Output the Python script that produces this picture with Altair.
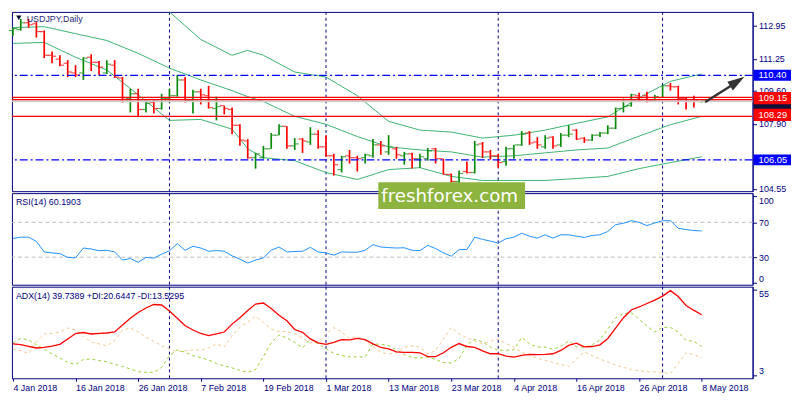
import altair as alt
import pandas as pd

# x axis: one bar per trading day, labels every 8 bars
tick_bars = [0, 8, 16, 24, 32, 40, 48, 56, 64, 72, 80, 88]
tick_labels = ["4 Jan 2018", "16 Jan 2018", "26 Jan 2018", "7 Feb 2018", "19 Feb 2018",
               "1 Mar 2018", "13 Mar 2018", "23 Mar 2018", "4 Apr 2018", "16 Apr 2018",
               "26 Apr 2018", "8 May 2018"]
month_starts = [20, 40, 62, 83]

# USDJPY daily OHLC
bar_open = [112.70, 112.75, 113.10, 113.05, 112.65, 111.43, 111.23, 111.02, 110.52, 110.52,
            111.33, 111.07, 110.52, 110.92, 110.26, 109.20, 109.45, 108.64, 109.00, 108.69,
            109.20, 109.35, 110.16, 109.10, 109.55, 109.35, 108.69, 108.84, 108.64, 107.83,
            107.02, 106.16, 106.16, 106.62, 107.32, 107.78, 106.77, 107.12, 106.97, 107.37,
            106.72, 106.26, 105.55, 106.26, 106.16, 106.16, 106.26, 106.82, 106.46, 106.62,
            106.26, 106.36, 106.11, 106.11, 106.62, 106.11, 105.30, 104.94, 105.45, 105.40,
            106.87, 106.46, 106.26, 105.96, 106.62, 106.82, 107.43, 106.97, 106.72, 107.22,
            106.82, 107.32, 107.58, 107.17, 107.07, 107.32, 107.43, 107.68, 108.69, 108.84,
            109.35, 109.35, 109.10, 109.25, 109.86, 109.81, 109.20, 109.15, 109.05]
bar_high = [112.85, 113.30, 113.30, 113.15, 112.70, 111.63, 111.43, 111.18, 110.92, 111.33,
            111.48, 111.13, 111.18, 111.18, 110.31, 109.71, 109.71, 109.15, 109.15, 109.45,
            109.71, 110.42, 110.31, 109.66, 109.71, 109.86, 109.30, 108.84, 108.74, 107.88,
            107.12, 106.41, 106.77, 107.43, 107.88, 107.78, 107.17, 107.17, 107.73, 107.58,
            107.32, 106.36, 106.26, 106.56, 106.26, 106.36, 107.12, 107.02, 107.32, 106.72,
            106.46, 106.41, 106.36, 106.66, 106.66, 106.11, 105.35, 105.50, 105.96, 107.02,
            106.97, 106.56, 106.36, 106.72, 106.82, 107.53, 107.53, 107.22, 107.32, 107.27,
            107.43, 107.83, 107.63, 107.22, 107.37, 107.48, 107.83, 108.74, 109.20, 109.45,
            109.50, 109.55, 109.40, 109.91, 110.01, 109.86, 109.25, 109.35, 109.15]
bar_low = [112.44, 112.70, 112.85, 112.34, 111.28, 111.02, 110.87, 110.31, 110.31, 110.16,
           110.62, 110.42, 110.47, 110.26, 109.00, 108.49, 108.24, 108.49, 108.44, 108.64,
           109.00, 109.30, 109.00, 108.44, 108.90, 108.69, 108.08, 108.39, 107.37, 106.77,
           106.11, 105.60, 106.11, 106.62, 107.32, 106.62, 106.56, 106.41, 106.82, 106.62,
           106.21, 105.25, 105.40, 105.86, 105.45, 105.86, 106.16, 106.31, 106.31, 106.11,
           105.80, 105.60, 105.65, 106.01, 105.86, 105.30, 104.69, 104.84, 105.35, 105.35,
           106.16, 106.06, 105.65, 105.75, 106.11, 106.77, 106.82, 106.62, 106.62, 106.62,
           106.72, 107.22, 107.07, 106.92, 107.02, 107.22, 107.37, 107.63, 108.49, 108.79,
           109.10, 109.00, 109.05, 109.25, 109.61, 108.90, 108.64, 108.74, 109.00]
bar_close = [112.80, 113.10, 113.00, 112.65, 111.43, 111.38, 110.92, 110.57, 110.42, 111.28,
             111.07, 110.82, 110.97, 110.31, 109.25, 109.45, 108.64, 108.95, 108.69, 109.20,
             109.35, 110.16, 109.10, 109.55, 109.40, 108.74, 108.79, 108.69, 107.83, 107.07,
             106.16, 106.36, 106.62, 107.32, 107.78, 106.77, 106.87, 107.02, 107.37, 106.72,
             106.26, 105.80, 106.21, 106.16, 106.11, 106.31, 106.82, 106.77, 106.72, 106.31,
             106.36, 106.11, 106.21, 106.51, 106.11, 105.30, 104.94, 105.35, 105.40, 106.82,
             106.46, 106.26, 105.91, 106.62, 106.82, 107.37, 106.92, 106.82, 107.17, 106.77,
             107.32, 107.37, 107.12, 107.07, 107.32, 107.43, 107.68, 108.69, 108.79, 109.40,
             109.25, 109.10, 109.30, 109.86, 109.81, 109.20, 109.15, 109.10, 109.10]

# Bollinger bands, read every few bars
bb_bars = [0, 4, 8, 12, 16, 20, 24, 28, 30, 32, 36, 40, 44, 48, 52, 56, 60, 64, 68, 72, 76, 80, 84, 88]
bb_upper = [114.67, 114.77, 114.77, 114.57, 114.12, 113.66, 112.24, 111.43, 111.68, 111.43, 110.57, 110.31,
            109.35, 108.03, 107.58, 107.48, 107.17, 107.32, 107.58, 107.93, 108.26, 109.25, 110.09, 110.47]
bb_middle = [112.85, 112.90, 112.54, 112.19, 111.53, 110.77, 110.16, 109.61, 109.30, 109.05, 108.29, 107.88,
             107.25, 106.72, 106.56, 106.46, 106.19, 106.26, 106.41, 106.56, 106.66, 107.27, 107.86, 108.29]
bb_lower = [112.04, 112.09, 111.33, 110.67, 109.40, 108.08, 108.13, 107.63, 106.62, 106.16, 106.01, 105.40,
            105.04, 105.55, 105.65, 105.20, 104.99, 104.99, 104.99, 105.09, 105.20, 105.60, 105.91, 106.21]

# horizontal levels
blue_levels = [110.40, 106.05]
red_lines = [109.26, 109.15, 108.29]
red_tags = [109.15, 108.29]
bid_price = 109.07

# arrow drawn on the chart
arrow_from = (88.55, 109.05)
arrow_to = (92.0, 109.93)
arrow_head = (92.54, 110.08)

rsi = [51.5, 53.0, 53.0, 48.1, 36.0, 34.9, 34.0, 29.7, 29.2, 40.5,
       39.4, 37.4, 37.9, 36.0, 26.6, 28.5, 24.0, 29.7, 28.9, 33.4,
       37.4, 45.5, 37.9, 42.5, 40.5, 36.8, 37.6, 36.8, 31.5, 27.7,
       23.2, 26.6, 29.2, 37.9, 41.7, 36.0, 36.5, 36.8, 41.3, 36.0,
       34.9, 32.3, 36.0, 35.7, 35.7, 37.9, 44.4, 41.7, 41.0, 40.5,
       40.8, 37.9, 37.6, 43.6, 39.9, 34.9, 31.1, 38.7, 38.7, 53.0,
       50.4, 48.5, 46.2, 51.2, 53.0, 57.5, 54.1, 51.9, 55.7, 51.9,
       55.7, 55.7, 54.1, 52.7, 54.9, 55.7, 59.5, 67.4, 68.9, 71.9,
       70.0, 66.3, 69.3, 71.9, 71.9, 63.2, 61.7, 60.6, 60.19]
adx = [22.1, 21.7, 20.6, 19.6, 20.0, 20.7, 21.8, 25.1, 28.4, 29.0,
       28.1, 28.5, 28.7, 29.3, 33.5, 37.7, 41.1, 43.9, 46.0, 45.7,
       42.0, 37.7, 33.1, 30.5, 28.4, 27.1, 28.1, 29.3, 34.1, 38.0,
       42.4, 46.3, 46.9, 43.6, 39.5, 36.1, 30.8, 29.1, 25.1, 22.7,
       21.8, 23.0, 24.7, 24.5, 25.4, 24.7, 22.1, 19.9, 19.1, 17.3,
       16.9, 17.0, 16.7, 14.4, 14.4, 16.7, 20.0, 22.3, 20.5, 20.0,
       17.9, 16.1, 16.1, 14.7, 14.1, 15.1, 15.7, 15.6, 15.7, 16.1,
       18.1, 21.2, 22.5, 20.3, 20.5, 21.5, 25.4, 31.7, 38.0, 42.7,
       44.5, 46.6, 48.7, 51.1, 54.4, 50.8, 45.4, 42.4, 39.74]
plus_di = [22.7, 25.4, 24.5, 21.5, 18.8, 16.1, 13.5, 10.8, 9.6, 12.6,
           12.9, 12.0, 11.2, 9.6, 8.4, 6.9, 5.2, 4.8, 4.8, 7.8,
           15.0, 18.5, 17.0, 15.0, 13.8, 12.3, 10.2, 8.7, 7.5, 6.0,
           4.8, 6.6, 14.4, 22.7, 27.5, 25.7, 23.0, 19.7, 25.1, 22.1,
           19.1, 16.4, 15.0, 14.2, 14.2, 14.2, 22.1, 21.8, 21.1, 18.5,
           15.6, 13.8, 13.5, 14.1, 12.6, 10.8, 10.5, 13.2, 21.5, 24.8,
           23.3, 20.2, 18.2, 18.2, 18.5, 26.0, 22.1, 20.2, 20.2, 18.8,
           20.6, 23.9, 20.3, 20.0, 21.5, 24.5, 31.1, 38.0, 40.4, 41.0,
           37.1, 32.9, 29.3, 32.1, 32.1, 29.3, 24.2, 23.6, 20.64]
minus_di = [19.1, 17.9, 16.1, 23.3, 28.1, 28.4, 29.3, 31.7, 30.5, 26.3,
            23.3, 22.1, 20.9, 23.9, 30.5, 31.7, 29.3, 26.1, 23.6, 20.9,
            19.1, 17.3, 17.9, 18.5, 18.2, 19.7, 22.1, 20.2, 26.9, 32.3,
            35.3, 38.9, 35.0, 31.1, 29.6, 29.6, 28.4, 25.7, 22.7, 23.0,
            28.1, 32.0, 29.3, 25.4, 26.6, 23.9, 20.3, 17.0, 15.9, 16.7,
            20.0, 20.9, 20.2, 16.1, 17.9, 25.1, 32.0, 28.1, 25.7, 23.9,
            22.1, 23.6, 25.1, 22.4, 20.0, 17.0, 15.0, 13.5, 12.0, 10.8,
            9.6, 8.4, 13.2, 17.2, 15.0, 12.9, 11.1, 9.3, 7.8, 6.6,
            5.7, 5.2, 5.1, 4.6, 4.2, 10.2, 16.7, 15.6, 13.53]

W = 752
H_MAIN = 182
H_IND = 93
NAVY = '#000080'
FONT = 'Liberation Sans'
TAG = "M-1,-0.29H1V0.29H-1Z"
TAG_TALL = "M-1,-0.33H1V0.33H-1Z"

ohlc = pd.DataFrame({'bar': range(len(bar_open)), 'open': bar_open, 'high': bar_high,
                     'low': bar_low, 'close': bar_close})
bands = pd.concat([pd.DataFrame({'bar': bb_bars, 'price': v, 'band': n})
                   for n, v in [('upper', bb_upper), ('middle', bb_middle), ('lower', bb_lower)]])
ind = pd.DataFrame({'bar': range(len(rsi)), 'rsi': rsi, 'adx': adx, 'pdi': plus_di, 'mdi': minus_di})
seps = pd.DataFrame({'bar': month_starts})

xs = alt.Scale(domain=[-0.125, 94.5], nice=False, zero=False)
labels_js = "[" + ", ".join(f"'{t}'" for t in tick_labels) + "]"
bars_js = "[" + ", ".join(str(b) for b in tick_bars) + "]"
x_axis = alt.Axis(values=tick_bars, labelExpr=f"{labels_js}[indexof({bars_js}, datum.value)]",
                  labelAlign='left', labelFlush=False, labelOverlap=False, grid=False, domain=False,
                  tickSize=3, tickColor=NAVY, labelColor=NAVY, labelFont=FONT, labelFontSize=9,
                  labelPadding=2, title=None)


def xq(field='bar', axis=None):
    return alt.X(f'{field}:Q', scale=xs, axis=axis, title=None)


def y_axis(values, fmt, offset=0):
    return alt.Axis(orient='right', values=values, format=fmt, grid=False, tickSize=4,
                    tickColor=NAVY, domainColor=NAVY, labelColor=NAVY, labelFont=FONT,
                    labelFontSize=9, labelPadding=2, labelOverlap=False, labelOffset=offset,
                    title=None)


# ---------- main price window ----------
ys = alt.Scale(domain=[104.44, 113.66], nice=False, zero=False)
main_axis = y_axis([112.95, 111.25, 109.60, 107.90, 104.55], '.2f')


def ym(field='price'):
    return alt.Y(f'{field}:Q', scale=ys, axis=main_axis, title=None)


sep_main = alt.Chart(seps).mark_rule(color=NAVY, strokeDash=[3, 3], strokeWidth=1).encode(x=xq())

bb = alt.Chart(bands).mark_line(color='#3CB371', strokeWidth=1, clip=True).encode(
    x=xq(), y=ym(), detail='band:N')

bar_color = alt.condition(alt.datum.close >= alt.datum.open, alt.value('#0A8A0A'), alt.value('#FF0000'))
hl = alt.Chart(ohlc).mark_rule(strokeWidth=1.7).encode(x=xq(), y=ym('high'), y2='low:Q', color=bar_color)
op = alt.Chart(ohlc).mark_tick(orient='horizontal', size=3.5, thickness=1.2, xOffset=-2.5).encode(
    x=xq(), y=ym('open'), color=bar_color)
cl = alt.Chart(ohlc).mark_tick(orient='horizontal', size=3.5, thickness=1.2, xOffset=2.5).encode(
    x=xq(), y=ym('close'), color=bar_color)

blue_ln = alt.Chart(pd.DataFrame({'price': blue_levels})).mark_rule(
    color='#0000FF', strokeDash=[8, 3, 2, 3], strokeWidth=1.3).encode(y=ym())
bid_ln = alt.Chart(pd.DataFrame({'price': [bid_price]})).mark_rule(
    color='#D0D0D0', strokeWidth=2).encode(y=ym())
red_ln = alt.Chart(pd.DataFrame({'price': red_lines})).mark_rule(
    color='#FF0000', strokeWidth=1.2).encode(y=ym())

arrow = alt.Chart(pd.DataFrame({'bar': [arrow_from[0]], 'price': [arrow_from[1]],
                                'bar2': [arrow_to[0]], 'price2': [arrow_to[1]]})).mark_rule(
    color='#333333', strokeWidth=2.5, strokeCap='round').encode(
    x=xq(), y=ym(), x2='bar2:Q', y2='price2:Q')
head = alt.Chart(pd.DataFrame({'bar': [arrow_head[0]], 'price': [arrow_head[1]]})).mark_point(
    shape="M0,-1L0.6,1L-0.6,1Z", filled=True, size=300, angle=57, color='#333333', opacity=1).encode(
    x=xq(), y=ym())


def tags(levels, color, shape=TAG, dy=0):
    d = alt.Chart(pd.DataFrame({'price': levels})).transform_calculate(
        label="format(datum.price, '.2f')")
    box = d.mark_point(shape=shape, filled=True, size=1444, color=color, opacity=1, yOffset=dy).encode(
        x=alt.value(W + 20), y=ym())
    txt = d.mark_text(align='left', baseline='middle', color='white', font=FONT, fontSize=9.5,
                      yOffset=dy).encode(x=alt.value(W + 6), y=ym(), text='label:N')
    return box + txt


bid_tag = alt.Chart(pd.DataFrame({'price': [bid_price]})).mark_point(
    shape=TAG, filled=True, size=1444, color='#10103A', opacity=1, yOffset=3).encode(
    x=alt.value(W + 20), y=ym())

title_main = alt.Chart(pd.DataFrame({'t': ['USDJPY,Daily']})).mark_text(
    align='left', baseline='middle', font=FONT, fontSize=9, color='#2A2A80').encode(
    x=alt.value(15), y=alt.value(7), text='t:N')
title_mark = alt.Chart(pd.DataFrame({'t': ['']})).mark_point(
    shape='triangle-down', filled=True, size=28, color='#000030', opacity=1).encode(
    x=alt.value(7), y=alt.value(6))

main = alt.layer(sep_main, bb, hl, op, cl, blue_ln, bid_ln, red_ln, arrow, head,
                 tags(blue_levels, '#0000FF'), bid_tag, tags(red_tags, '#FF0000', TAG_TALL, -1.5),
                 title_main, title_mark).properties(width=W, height=H_MAIN)

# ---------- RSI window ----------
rs = alt.Scale(domain=[-1.7, 103.6], nice=False, zero=False)
rsi_axis = y_axis([0, 30, 70, 100], 'd',
                  {"condition": [{"test": "datum.value == 100", "value": 4},
                                 {"test": "datum.value == 0", "value": -5}], "value": 0})
sep_rsi = alt.Chart(seps).mark_rule(color=NAVY, strokeDash=[3, 3], strokeWidth=1).encode(x=xq())
rsi_lv = alt.Chart(pd.DataFrame({'v': [30, 70]})).mark_rule(
    color='#BDBDBD', strokeDash=[4, 3], strokeWidth=1).encode(y=alt.Y('v:Q', scale=rs, axis=rsi_axis))
rsi_ln = alt.Chart(ind).mark_line(color='#1E90FF', strokeWidth=1).encode(
    x=xq(), y=alt.Y('rsi:Q', scale=rs, axis=rsi_axis))
rsi_title = alt.Chart(pd.DataFrame({'t': ['RSI(14) 60.1903']})).mark_text(
    align='left', baseline='middle', font=FONT, fontSize=9, color=NAVY).encode(
    x=alt.value(4), y=alt.value(9), text='t:N')
wm_box = alt.Chart(pd.DataFrame({'t': ['freshforex.com']})).mark_rect(color='#8DB43E').encode(
    x=alt.value(372), x2=alt.value(521), y=alt.value(-11), y2=alt.value(16))
wm_txt = alt.Chart(pd.DataFrame({'t': ['freshforex.com']})).mark_text(
    align='left', baseline='middle', font='DejaVu Sans', fontSize=18.5, color='white').encode(
    x=alt.value(375), y=alt.value(3), text='t:N')

rsi_panel = alt.layer(sep_rsi, rsi_lv, rsi_ln, rsi_title, wm_box, wm_txt).properties(
    width=W, height=H_IND)

# ---------- ADX window ----------
ascale = alt.Scale(domain=[1.2, 56.8], nice=False, zero=False)
adx_axis = y_axis([3, 55], 'd', {"condition": {"test": "datum.value > 30", "value": 4}, "value": -5})


def ya(field):
    return alt.Y(f'{field}:Q', scale=ascale, axis=adx_axis, title=None)


sep_adx = alt.Chart(seps).mark_rule(color=NAVY, strokeDash=[3, 3], strokeWidth=1).encode(
    x=xq(axis=x_axis))
mdi_ln = alt.Chart(ind).mark_line(color='#F0C890', strokeDash=[3, 3], strokeWidth=1).encode(
    x=xq(axis=x_axis), y=ya('mdi'))
pdi_ln = alt.Chart(ind).mark_line(color='#9ACD32', strokeDash=[3, 3], strokeWidth=1).encode(
    x=xq(axis=x_axis), y=ya('pdi'))
adx_ln = alt.Chart(ind).mark_line(color='#FF0000', strokeWidth=1.3).encode(
    x=xq(axis=x_axis), y=ya('adx'))
adx_title = alt.Chart(pd.DataFrame({'t': ['ADX(14) 39.7389 +DI:20.6447 -DI:13.5295']})).mark_text(
    align='left', baseline='middle', font=FONT, fontSize=9, color=NAVY).encode(
    x=alt.value(4), y=alt.value(9), text='t:N')

adx_panel = alt.layer(sep_adx, mdi_ln, pdi_ln, adx_ln, adx_title).properties(width=W, height=H_IND)

chart = alt.vconcat(main, rsi_panel, adx_panel, spacing=2, bounds='flush').properties(
    padding=0, background='white').configure_view(stroke=NAVY, strokeWidth=1)

chart.save("out.html", embed_options={"renderer": "svg", "actions": False})
